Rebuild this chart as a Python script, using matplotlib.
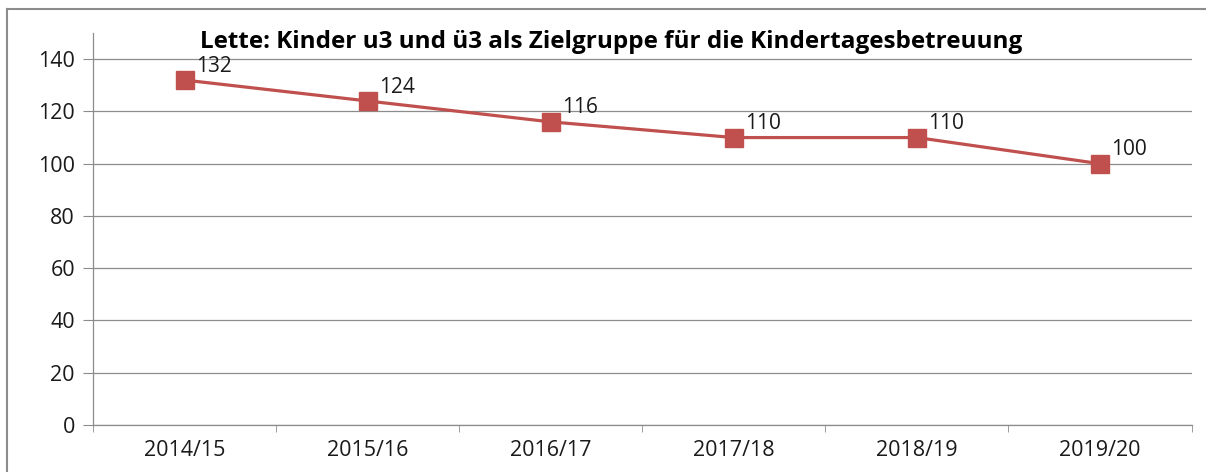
import matplotlib.pyplot as plt
from matplotlib.lines import Line2D

# Data
jahre = ['2014/15', '2015/16', '2016/17', '2017/18', '2018/19', '2019/20']
kinder = [132, 124, 116, 110, 110, 100]
titel = 'Lette: Kinder u3 und ü3 als Zielgruppe für die Kindertagesbetreuung'

plt.rcParams['font.family'] = ['Open Sans', 'DejaVu Sans']

fig = plt.figure(figsize=(12.06, 4.72), dpi=100)
ax = fig.add_axes([0.0771, 0.0996, 0.9109, 0.8304])

x = list(range(len(jahre)))
ax.plot(x, kinder, color='#C0504D', linewidth=2.3, marker='s',
        markersize=13, markeredgecolor='#C0504D', zorder=3)

for xi, v in zip(x, kinder):
    ax.annotate(str(v), (xi, v), xytext=(21, 10), textcoords='offset points',
                ha='center', va='center', fontsize=15, color='#1a1a1a')

ax.set_xlim(-0.5, len(jahre) - 0.5)
ax.set_ylim(0, 150)
ax.set_yticks(range(0, 141, 20))
ax.yaxis.grid(True, color='#8c8c8c', linewidth=0.9)
ax.set_axisbelow(True)

ax.set_xticks(x)
ax.set_xticklabels(jahre, fontsize=15.5, color='#1a1a1a')
ax.set_xticks([i - 0.5 for i in range(len(jahre) + 1)], minor=True)
ax.tick_params(axis='x', which='major', length=0, pad=11)
ax.tick_params(axis='x', which='minor', length=5, color='#8c8c8c', direction='out')
ax.tick_params(axis='y', length=7, color='#8c8c8c', labelsize=15.5,
               labelcolor='#1a1a1a', pad=6)

for s in ['top', 'right']:
    ax.spines[s].set_visible(False)
for s in ['left', 'bottom']:
    ax.spines[s].set_color('#8c8c8c')
    ax.spines[s].set_linewidth(0.9)

fig.text(0.507, 0.91, titel, ha='center', va='center', fontsize=17.5,
         fontweight='bold', color='#000000')

# outer chart border
fig.add_artist(Line2D([7 / 1206, 7 / 1206], [0, 1 - 9 / 472],
                      transform=fig.transFigure, color='#8c8c8c', linewidth=1.5))
fig.add_artist(Line2D([7 / 1206, 1], [1 - 9 / 472, 1 - 9 / 472],
                      transform=fig.transFigure, color='#8c8c8c', linewidth=1.5))

fig.savefig('out.png', dpi=100)
